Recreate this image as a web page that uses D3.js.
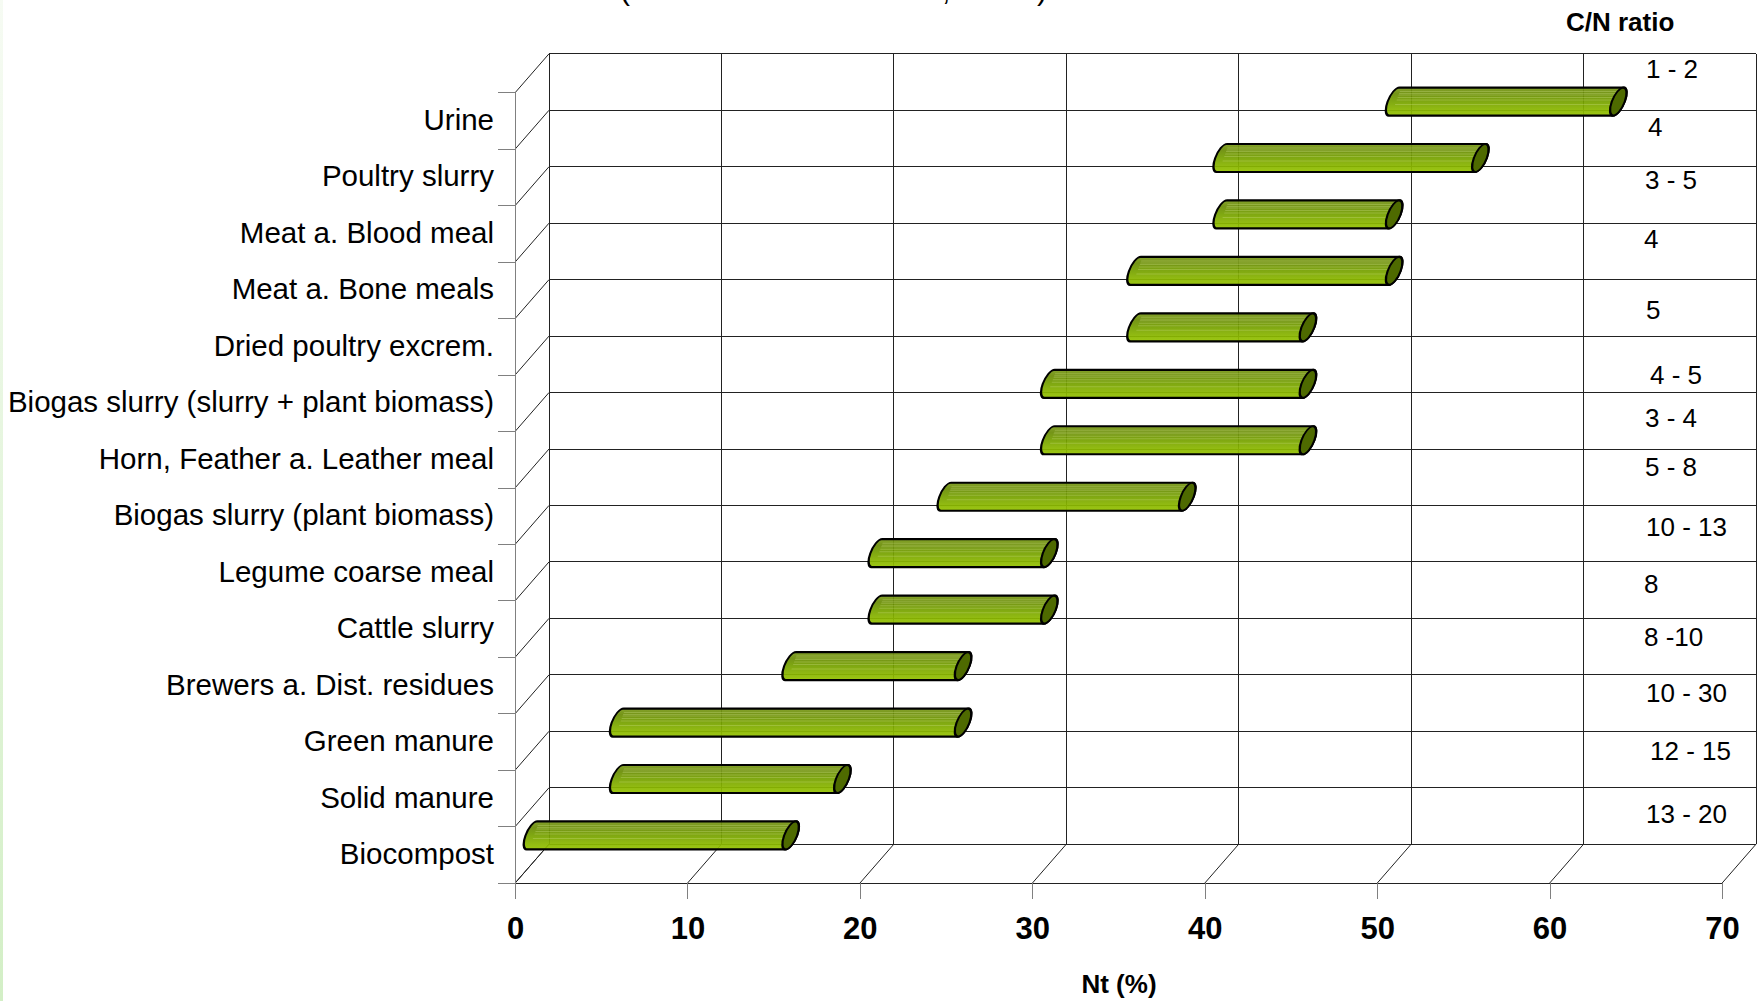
<!doctype html>
<html>
<head>
<script src="https://cdnjs.cloudflare.com/ajax/libs/d3/7.8.5/d3.min.js"></script>
<style>
body { margin: 0; background: #fff; }
svg { display: block; font-family: "Liberation Sans", Arial, sans-serif; }
.wall { stroke: #222; stroke-width: 1px; fill: none; }
.edge { stroke: #808080; stroke-width: 1px; fill: none; }
.cat { font-size: 29.5px; fill: #000; text-anchor: end; }
.cn { font-size: 26px; fill: #000; }
</style>
</head>
<body>
<svg id="chart" width="1759" height="1001"></svg>
<script>
// manure types, top to bottom
var categories = ["Urine", "Poultry slurry", "Meat a. Blood meal", "Meat a. Bone meals",
  "Dried poultry excrem.", "Biogas slurry (slurry + plant biomass)", "Horn, Feather a. Leather meal",
  "Biogas slurry (plant biomass)", "Legume coarse meal", "Cattle slurry", "Brewers a. Dist. residues",
  "Green manure", "Solid manure", "Biocompost"];
// Nt (%) range, low and high
var ntLow  = [50, 40, 40, 35, 35, 30, 30, 24, 20, 20, 15, 5, 5, 0];
var ntHigh = [63, 55, 50, 50, 45, 45, 45, 38, 30, 30, 25, 25, 18, 15];
var cnRatio = ["1 - 2", "4", "3 - 5", "4", "5", "4 - 5", "3 - 4", "5 - 8", "10 - 13", "8", "8 -10", "10 - 30", "12 - 15", "13 - 20"];
var xTicks = [0, 10, 20, 30, 40, 50, 60, 70];

// the C/N text boxes sit a little off the row centres in the original
var cnDx = [2, 4, 1, 0, 2, 6, 1, 1, 2, 0, 0, 2, 6, 2];
var cnDy = [-4, -2, -6, -3, 11, 20, 6, -1, 2, 3, -1, -1, 0, 7];

var svg = d3.select("#chart");

var defs = svg.append("defs");
var edgeGrad = defs.append("linearGradient").attr("id", "edgeGrad")
  .attr("x1", 0).attr("y1", 0).attr("x2", 0).attr("y2", 1);
edgeGrad.append("stop").attr("offset", "0%").attr("stop-color", "#f6fbf3");
edgeGrad.append("stop").attr("offset", "100%").attr("stop-color", "#d3efc6");
var barGrad = defs.append("linearGradient").attr("id", "barGrad")
  .attr("x1", 0).attr("y1", 0).attr("x2", 0).attr("y2", 1);
[["0%", "#7c9b1c"], ["22%", "#6a8c06"], ["48%", "#75a000"], ["75%", "#87b300"], ["100%", "#95c300"]]
  .forEach(function (s) { barGrad.append("stop").attr("offset", s[0]).attr("stop-color", s[1]); });

svg.append("rect").attr("x", 0).attr("y", 0).attr("width", 3).attr("height", 1001)
  .attr("fill", "url(#edgeGrad)");

// front plane scales, the back wall is shifted by depth
var x = d3.scaleLinear().domain([0, 70]).range([515, 1722]);
var y = d3.scaleBand().domain(categories).range([92.8, 883.2]);
var dx = 34, dy = -39;
var yBounds = categories.map(function (c) { return y(c); }).concat([y.range()[1]]);

// back wall
var back = svg.append("g");
back.selectAll("line.h").data(yBounds).enter().append("line")
  .attr("class", "wall").attr("shape-rendering", "crispEdges")
  .attr("x1", x(0) + dx).attr("x2", x(70) + dx)
  .attr("y1", function (d) { return d + dy; }).attr("y2", function (d) { return d + dy; });
back.selectAll("line.v").data(xTicks).enter().append("line")
  .attr("class", "wall").attr("shape-rendering", "crispEdges")
  .attr("x1", function (d) { return x(d) + dx; }).attr("x2", function (d) { return x(d) + dx; })
  .attr("y1", yBounds[0] + dy).attr("y2", yBounds[14] + dy);

// side wall
svg.append("g").selectAll("line").data(yBounds).enter().append("line")
  .attr("class", "wall")
  .attr("x1", x(0)).attr("y1", function (d) { return d; })
  .attr("x2", x(0) + dx).attr("y2", function (d) { return d + dy; });

// floor
var base = y.range()[1];
svg.append("g").selectAll("line").data(xTicks).enter().append("line")
  .attr("class", "wall")
  .attr("x1", function (d) { return x(d); }).attr("y1", base)
  .attr("x2", function (d) { return x(d) + dx; }).attr("y2", base + dy);
svg.append("line").attr("class", "wall").attr("shape-rendering", "crispEdges")
  .attr("x1", 498).attr("x2", x(70)).attr("y1", base).attr("y2", base);

// front left axis with ticks on the row borders
svg.append("line").attr("class", "edge").attr("shape-rendering", "crispEdges")
  .attr("x1", x(0)).attr("x2", x(0)).attr("y1", yBounds[0]).attr("y2", base + 16);
svg.append("g").selectAll("line").data(yBounds).enter().append("line")
  .attr("class", "edge").attr("shape-rendering", "crispEdges")
  .attr("x1", x(0) - 17).attr("x2", x(0))
  .attr("y1", function (d) { return d; }).attr("y2", function (d) { return d; });

// bottom axis
var xAxis = svg.append("g").attr("transform", "translate(0," + base + ")")
  .call(d3.axisBottom(x).tickValues(xTicks).tickSizeInner(16).tickSizeOuter(0).tickPadding(18));
xAxis.select(".domain").remove();
xAxis.selectAll(".tick line").attr("stroke", "#808080").attr("shape-rendering", "crispEdges");
xAxis.selectAll(".tick text").attr("font-family", "Liberation Sans, Arial, sans-serif")
  .attr("font-size", 31).attr("font-weight", "bold").attr("fill", "#000");

svg.append("text").attr("x", 1119).attr("y", 993).attr("text-anchor", "middle")
  .attr("font-size", 26).attr("font-weight", "bold").text("Nt (%)");

// category labels
svg.append("g").selectAll("text").data(categories).enter().append("text")
  .attr("class", "cat")
  .attr("x", 494)
  .attr("y", function (d) { return y(d) + y.bandwidth() / 2 + 9; })
  .text(function (d) { return d; });

// cylinders at mid depth
var rx = 6.5, ry = 14;
var bars = svg.append("g").selectAll("g").data(categories).enter().append("g")
  .attr("transform", function (d) {
    return "translate(0," + (y(d) + y.bandwidth() / 2 + dy / 2) + ") skewX(-20)";
  });
function bx(v) { return x(v) + dx / 2; }
bars.append("path")
  .attr("d", function (d, i) {
    var x0 = bx(ntLow[i]), x1 = bx(ntHigh[i]);
    return "M" + x0 + "," + (-ry) + "L" + x1 + "," + (-ry) +
      "A" + rx + "," + ry + " 0 0 1 " + x1 + "," + ry +
      "L" + x0 + "," + ry +
      "A" + rx + "," + ry + " 0 0 1 " + x0 + "," + (-ry) + "Z";
  })
  .attr("fill", "url(#barGrad)").attr("fill-opacity", 0.93)
  .attr("stroke", "#000").attr("stroke-width", 2.2);
[-10, -8, -6.5, -4, -1.5, 3].forEach(function (o) {
  bars.append("line")
    .attr("x1", function (d, i) { return bx(ntLow[i]) + 2; })
    .attr("x2", function (d, i) { return bx(ntHigh[i]); })
    .attr("y1", o).attr("y2", o)
    .attr("stroke", "#c8dc80").attr("stroke-opacity", 0.35).attr("stroke-width", 1);
});
bars.append("ellipse")
  .attr("cx", function (d, i) { return bx(ntHigh[i]); }).attr("cy", 0)
  .attr("rx", rx).attr("ry", ry)
  .attr("fill", "#4e6a00").attr("stroke", "#000").attr("stroke-width", 2.2);

// C/N ratio column
svg.append("text").attr("x", 1566).attr("y", 31)
  .attr("font-size", 26).attr("font-weight", "bold").text("C/N ratio");
svg.append("g").selectAll("text").data(cnRatio).enter().append("text")
  .attr("class", "cn")
  .attr("x", function (d, i) { return 1644 + cnDx[i]; })
  .attr("y", function (d, i) { return y(categories[i]) + dy + y.bandwidth() / 2 + cnDy[i]; })
  .text(function (d) { return d; });

// title is cut off at the top edge, only the low parts of these glyphs show
svg.append("g").selectAll("text").data([["(", 620], [",", 942], [")", 1037]]).enter().append("text")
  .attr("x", function (d) { return d[1]; }).attr("y", 0)
  .attr("font-size", 30).text(function (d) { return d[0]; });
</script>
</body>
</html>
